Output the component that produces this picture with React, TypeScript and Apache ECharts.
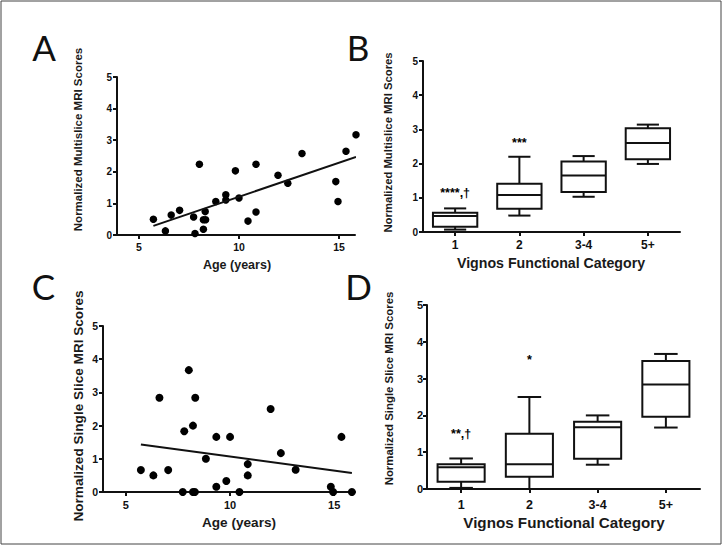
import React, { useEffect, useRef } from "react";
import * as echarts from "echarts";

// ---- data ----
const ages = [5.72, 6.32, 6.61, 7.03, 7.73, 7.8, 8.02, 8.22, 8.22, 8.31, 8.33, 8.84, 9.34, 9.34, 9.82, 10.0, 10.45, 10.85, 10.85, 11.95, 12.44, 13.15, 14.84, 14.95, 15.35, 15.85];
const multisliceScores = [0.5, 0.13, 0.63, 0.78, 0.57, 0.05, 2.24, 0.18, 0.48, 0.74, 0.48, 1.06, 1.27, 1.11, 2.03, 1.17, 0.44, 2.24, 0.73, 1.89, 1.64, 2.58, 1.69, 1.06, 2.65, 3.17];
const singleSliceScores = [0.66, 0.5, 2.84, 0.66, 0, 1.83, 3.67, 2.0, 0, 0, 2.84, 1.0, 1.66, 0.16, 0.33, 1.66, 0, 0.84, 0.5, 2.5, 1.17, 0.67, 0.16, 0, 1.66, 0];

const fitAges = [5.72, 15.85];
const multisliceFit = [0.29, 2.47];
const singleSliceFit = [1.43, 0.57];

const ageTicks = [5, 10, 15];

const categories = ["1", "2", "3-4", "5+"];
// [min, Q1, median, Q3, max]
const multisliceBoxes = [
  [0.07, 0.15, 0.47, 0.56, 0.69],
  [0.48, 0.68, 1.08, 1.41, 2.2],
  [1.03, 1.17, 1.65, 2.06, 2.22],
  [1.99, 2.13, 2.6, 3.03, 3.14],
];
const singleSliceBoxes = [
  [0.03, 0.2, 0.59, 0.67, 0.83],
  [0, 0.33, 0.67, 1.5, 2.5],
  [0.66, 0.82, 1.68, 1.83, 2.0],
  [1.67, 1.96, 2.84, 3.48, 3.67],
];
const multisliceMarks = ["****,\u2020", "***"];
const multisliceMarkY = [1.14, 2.61];
const singleSliceMarks = ["**,\u2020", "*"];
const singleSliceMarkY = [1.49, 3.5];

const FONT = '"Liberation Sans", Arial, sans-serif';
const INK = "#111";

function valueXAxis(gridIndex: number, min: number, max: number, fs: number, margin: number) {
  return {
    gridIndex,
    type: "value",
    min,
    max,
    axisLine: { show: true, onZero: false, lineStyle: { color: INK, width: 2 } },
    axisTick: { show: true, length: 4, customValues: ageTicks, lineStyle: { color: INK, width: 2 } },
    axisLabel: { customValues: ageTicks, color: INK, fontWeight: "bold", fontSize: fs, fontFamily: FONT, margin },
    splitLine: { show: false },
  };
}
function catXAxis(gridIndex: number, fs: number, margin: number) {
  return {
    gridIndex,
    type: "category",
    data: categories,
    axisLine: { show: true, onZero: false, lineStyle: { color: INK, width: 2 } },
    axisTick: { show: true, length: 4, alignWithLabel: true, lineStyle: { color: INK, width: 2 } },
    axisLabel: { color: INK, fontWeight: "bold", fontSize: fs, fontFamily: FONT, margin },
    splitLine: { show: false },
  };
}
function scoreYAxis(gridIndex: number, fs: number, margin: number) {
  return {
    gridIndex,
    type: "value",
    min: 0,
    max: 5,
    interval: 1,
    axisLine: { show: true, onZero: false, lineStyle: { color: INK, width: 2 } },
    axisTick: { show: true, length: 4, lineStyle: { color: INK, width: 2 } },
    axisLabel: { color: INK, fontWeight: "bold", fontSize: fs, fontFamily: FONT, margin },
    splitLine: { show: false },
  };
}

function boxRender(params: any, api: any) {
  const c = api.value(0);
  const pMin = api.coord([c, api.value(1)]);
  const pQ1 = api.coord([c, api.value(2)]);
  const pMed = api.coord([c, api.value(3)]);
  const pQ3 = api.coord([c, api.value(4)]);
  const pMax = api.coord([c, api.value(5)]);
  const band = api.size([1, 0])[0];
  const w = band * 0.69;
  const hw = w / 2;
  const cw = w / 4;
  const cx = pMed[0];
  const st = { stroke: INK, lineWidth: 2, fill: "none" };
  return {
    type: "group",
    children: [
      { type: "line", shape: { x1: cx, y1: pQ3[1], x2: cx, y2: pMax[1] }, style: st },
      { type: "line", shape: { x1: cx, y1: pQ1[1], x2: cx, y2: pMin[1] }, style: st },
      { type: "line", shape: { x1: cx - cw, y1: pMax[1], x2: cx + cw, y2: pMax[1] }, style: st },
      { type: "line", shape: { x1: cx - cw, y1: pMin[1], x2: cx + cw, y2: pMin[1] }, style: st },
      { type: "rect", shape: { x: cx - hw, y: pQ3[1], width: w, height: pQ1[1] - pQ3[1] }, style: { stroke: INK, lineWidth: 2, fill: "#fff" } },
      { type: "line", shape: { x1: cx - hw, y1: pMed[1], x2: cx + hw, y2: pMed[1] }, style: st },
    ],
  };
}

function markRender(params: any, api: any) {
  const p = api.coord([api.value(0), api.value(1)]);
  const item = params.dataIndex;
  return {
    type: "text",
    x: p[0],
    y: p[1],
    style: {
      text: api.value(2) as any,
      fontSize: 12.5,
      fontWeight: "bold",
      fontFamily: FONT,
      fill: "#000",
      align: "center",
      verticalAlign: "middle",
    },
  };
}

function txt(text: string, x: number, y: number, size: number, opts: any = {}) {
  return {
    type: "text",
    x,
    y,
    rotation: opts.rotation || 0,
    silent: true,
    style: {
      text,
      fontSize: size,
      fontWeight: opts.weight || "bold",
      fontFamily: opts.family || FONT,
      fill: opts.fill || "#1a1a1a",
      align: "center",
      verticalAlign: "middle",
    },
  };
}

export default function App() {
  const ref = useRef<HTMLDivElement>(null);
  useEffect(() => {
    if (!ref.current) return;
    const chart = echarts.init(ref.current, null, { renderer: "svg" });
    const pairs = (ys: number[]) => ages.map((a, i) => [a, ys[i]]);
    const fit = (ys: number[]) => fitAges.map((a, i) => [a, ys[i]]);
    const boxData = (b: number[][]) => b.map((v, i) => [i, ...v]);
    const markSeries = (idx: number, marks: string[], ys: number[]) => ({
      type: "custom",
      xAxisIndex: idx,
      yAxisIndex: idx,
      dimensions: [{ name: "c", type: "number" }, { name: "y", type: "number" }, { name: "t", type: "ordinal" }],
      data: marks.map((m, i) => [i, ys[i], m]),
      encode: { x: 0, y: 1 },
      renderItem: (params: any, api: any) => {
        const i = params.dataIndex;
        const p = api.coord([i, ys[i]]);
        return {
          type: "text",
          x: p[0],
          y: p[1],
          style: {
            text: marks[i],
            fontSize: 12.5,
            fontWeight: "bold",
            fontFamily: FONT,
            fill: "#000",
            align: "center",
            verticalAlign: "middle",
          },
        };
      },
      z: 5,
    });

    const option: any = {
      animation: false,
      backgroundColor: "#fff",
      grid: [
        { left: 117, top: 77, width: 238, height: 158 },
        { left: 423, top: 61, width: 257, height: 171 },
        { left: 103, top: 326, width: 252, height: 166 },
        { left: 427, top: 305, width: 273, height: 184 },
      ],
      xAxis: [
        valueXAxis(0, 3.9, 15.8, 10.5, 6),
        catXAxis(1, 12, 7),
        valueXAxis(2, 3.9, 16, 11, 7),
        catXAxis(3, 12.5, 9),
      ],
      yAxis: [scoreYAxis(0, 10, 5), scoreYAxis(1, 10, 5), scoreYAxis(2, 10.5, 5), scoreYAxis(3, 11, 4)],
      series: [
        {
          type: "scatter",
          xAxisIndex: 0,
          yAxisIndex: 0,
          data: pairs(multisliceScores),
          symbolSize: 7.5,
          itemStyle: { color: "#000", opacity: 1 },
          clip: false,
        },
        {
          type: "line",
          xAxisIndex: 0,
          yAxisIndex: 0,
          data: fit(multisliceFit),
          showSymbol: false,
          symbol: "none",
          lineStyle: { color: INK, width: 2 },
        },
        {
          type: "custom",
          xAxisIndex: 1,
          yAxisIndex: 1,
          data: boxData(multisliceBoxes),
          encode: { x: 0, y: [1, 2, 3, 4, 5] },
          renderItem: boxRender,
        },
        markSeries(1, multisliceMarks, multisliceMarkY),
        {
          type: "scatter",
          xAxisIndex: 2,
          yAxisIndex: 2,
          data: pairs(singleSliceScores),
          symbolSize: 8,
          itemStyle: { color: "#000", opacity: 1 },
          clip: false,
        },
        {
          type: "line",
          xAxisIndex: 2,
          yAxisIndex: 2,
          data: fit(singleSliceFit),
          showSymbol: false,
          symbol: "none",
          lineStyle: { color: INK, width: 2 },
        },
        {
          type: "custom",
          xAxisIndex: 3,
          yAxisIndex: 3,
          data: boxData(singleSliceBoxes),
          encode: { x: 0, y: [1, 2, 3, 4, 5] },
          renderItem: boxRender,
        },
        markSeries(3, singleSliceMarks, singleSliceMarkY),
      ],
      graphic: [
        { type: "rect", silent: true, shape: { x: 1, y: 1, width: 720, height: 543 }, style: { fill: "none", stroke: "#444", lineWidth: 1 } },
        txt("A", 44, 47, 35, { weight: "normal", family: "Lato, sans-serif", fill: "#111" }),
        txt("B", 358, 47, 35, { weight: "normal", family: "Lato, sans-serif", fill: "#111" }),
        txt("C", 43.5, 286, 35, { weight: "normal", family: "Lato, sans-serif", fill: "#111" }),
        txt("D", 358.5, 286, 35, { weight: "normal", family: "Lato, sans-serif", fill: "#111" }),
        txt("Normalized Multislice MRI Scores", 78, 139.5, 11.5, { rotation: Math.PI / 2 }),
        txt("Age (years)", 237, 265, 12.5),
        txt("Normalized Multislice MRI Scores", 388, 142.5, 11.3, { rotation: Math.PI / 2 }),
        txt("Vignos Functional Category", 551, 263, 14.2),
        txt("Normalized Single Slice MRI Scores", 78, 406, 13.6, { rotation: Math.PI / 2 }),
        txt("Age (years)", 239, 522, 13.6),
        txt("Normalized Single Slice MRI Scores", 389, 388.5, 11.4, { rotation: Math.PI / 2 }),
        txt("Vignos Functional Category", 564, 522, 15.2),
      ],
    };
    chart.setOption(option);
    return () => chart.dispose();
  }, []);
  return <div ref={ref} style={{ position: "fixed", left: 0, top: 0, width: 723, height: 546, background: "#fff" }} />;
}
